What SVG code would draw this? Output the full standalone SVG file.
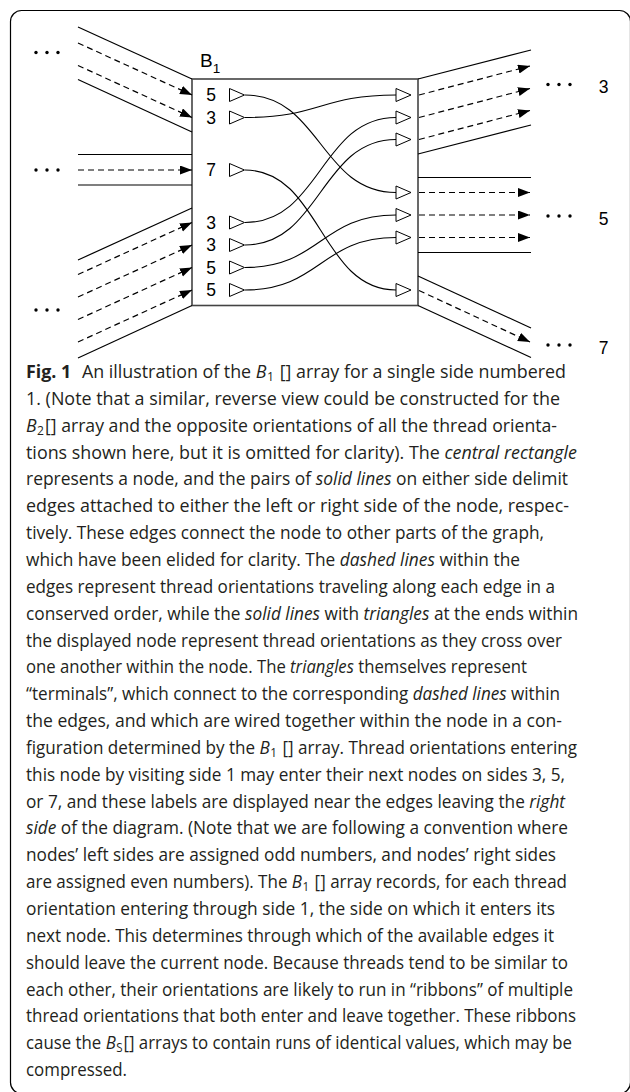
<svg xmlns="http://www.w3.org/2000/svg" xmlns:xlink="http://www.w3.org/1999/xlink" width="630" height="1092" viewBox="0 0 630 1092">
  <style>
    .frame { fill: none; stroke: #000; stroke-width: 1.2; }
    .node { fill: #fff; stroke: #444; stroke-width: 1.6; }
    .rail { fill: none; stroke: #000; stroke-width: 1.2; }
    .thread { fill: none; stroke: #000; stroke-width: 1.2; stroke-dasharray: 6 4; marker-end: url(#arrow); }
    .wire { fill: none; stroke: #000; stroke-width: 1.1; }
    .term { fill: #fff; stroke: #000; stroke-width: 1; }
    .dot { fill: #000; }
    .num { font-family: "Liberation Sans", Arial, sans-serif; font-size: 17.5px; fill: #000; text-anchor: middle; }
    .title { font-family: "Liberation Sans", Arial, sans-serif; font-size: 19px; fill: #000; }
    .cap { font-family: "Open Sans", "Noto Sans", sans-serif; font-size: 17.5px; fill: #231f20; }
    .it { font-style: italic; }
    .sub { font-size: 12px; }
  </style>
  <defs>
    <marker id="arrow" markerUnits="userSpaceOnUse" markerWidth="13" markerHeight="10" refX="12" refY="4.5" orient="auto">
      <path d="M0,0 L12,4.5 L0,9 Z" fill="#000"/>
    </marker>
    <path id="tri" d="M0,-6.5 L0,6.5 L15,0 Z"/>
    <g id="dots">
      <circle cx="0" cy="0" r="1.7"/>
      <circle cx="11" cy="0" r="1.7"/>
      <circle cx="22" cy="0" r="1.7"/>
    </g>
  </defs>

  <!-- outer figure frame -->
  <rect class="frame" x="10.5" y="10.5" width="620" height="1083" rx="11"/>

  <!-- the node B1 with its side-1 and right-side terminals -->
  <g id="node-b1">
    <rect class="node" x="192" y="79" width="226" height="226.5"/>
    <text class="title" x="200" y="67">B<tspan font-size="13.5px" dy="6">1</tspan></text>
    <g class="num">
      <text x="211" y="101.3">5</text>
      <text x="211" y="123.8">3</text>
      <text x="211" y="176.3">7</text>
      <text x="211" y="228.8">3</text>
      <text x="211" y="251.3">3</text>
      <text x="211" y="273.8">5</text>
      <text x="211" y="296.3">5</text>
    </g>
    <g class="term">
      <use xlink:href="#tri" x="229.5" y="95"/>
      <use xlink:href="#tri" x="229.5" y="117.5"/>
      <use xlink:href="#tri" x="229.5" y="170"/>
      <use xlink:href="#tri" x="229.5" y="222.5"/>
      <use xlink:href="#tri" x="229.5" y="245"/>
      <use xlink:href="#tri" x="229.5" y="267.5"/>
      <use xlink:href="#tri" x="229.5" y="290"/>
      <use xlink:href="#tri" x="396" y="95"/>
      <use xlink:href="#tri" x="396" y="117.5"/>
      <use xlink:href="#tri" x="396" y="139.5"/>
      <use xlink:href="#tri" x="396" y="192.5"/>
      <use xlink:href="#tri" x="396" y="215"/>
      <use xlink:href="#tri" x="396" y="237.5"/>
      <use xlink:href="#tri" x="396" y="290"/>
    </g>
  </g>

  <!-- incoming edges on the left side -->
  <g id="edge-left-top">
    <line class="rail" x1="78" y1="27" x2="192" y2="79"/>
    <line class="rail" x1="78" y1="79.5" x2="192" y2="132"/>
    <line class="thread" x1="78" y1="43" x2="192" y2="95"/>
    <line class="thread" x1="78" y1="65.5" x2="192" y2="117.5"/>
    <use class="dot" xlink:href="#dots" x="36" y="52.5"/>
  </g>
  <g id="edge-left-middle">
    <line class="rail" x1="78" y1="154.5" x2="192" y2="154.5"/>
    <line class="rail" x1="78" y1="185" x2="192" y2="185"/>
    <line class="thread" x1="78" y1="170" x2="192" y2="170"/>
    <use class="dot" xlink:href="#dots" x="36" y="170"/>
  </g>
  <g id="edge-left-bottom">
    <line class="rail" x1="78" y1="260" x2="192" y2="208"/>
    <line class="rail" x1="78" y1="358" x2="192" y2="305.5"/>
    <line class="thread" x1="78" y1="274.5" x2="192" y2="222.5"/>
    <line class="thread" x1="78" y1="297" x2="192" y2="245"/>
    <line class="thread" x1="78" y1="319.5" x2="192" y2="267.5"/>
    <line class="thread" x1="78" y1="342" x2="192" y2="290"/>
    <use class="dot" xlink:href="#dots" x="36" y="310"/>
  </g>

  <!-- outgoing edges on the right side, labelled by the side they enter -->
  <g id="edge-right-3">
    <line class="rail" x1="418" y1="79" x2="531" y2="50"/>
    <line class="rail" x1="418" y1="154" x2="531" y2="125"/>
    <line class="thread" x1="419" y1="95" x2="530" y2="66"/>
    <line class="thread" x1="419" y1="117.5" x2="530" y2="88.5"/>
    <line class="thread" x1="419" y1="139.5" x2="530" y2="110.5"/>
    <use class="dot" xlink:href="#dots" x="548" y="84.5"/>
    <text class="num" x="603.5" y="92.6">3</text>
  </g>
  <g id="edge-right-5">
    <line class="rail" x1="418" y1="177.5" x2="531" y2="177.5"/>
    <line class="rail" x1="418" y1="252.5" x2="531" y2="252.5"/>
    <line class="thread" x1="419" y1="192.5" x2="530" y2="192.5"/>
    <line class="thread" x1="419" y1="215" x2="530" y2="215"/>
    <line class="thread" x1="419" y1="237.5" x2="530" y2="237.5"/>
    <use class="dot" xlink:href="#dots" x="548" y="216"/>
    <text class="num" x="603.5" y="224.5">5</text>
  </g>
  <g id="edge-right-7">
    <line class="rail" x1="418" y1="276" x2="531" y2="328"/>
    <line class="rail" x1="418" y1="305.5" x2="531" y2="357.5"/>
    <line class="thread" x1="419" y1="290.5" x2="530" y2="342"/>
    <use class="dot" xlink:href="#dots" x="548" y="345"/>
    <text class="num" x="603.5" y="353.5">7</text>
  </g>

  <!-- wiring inside the node: side-1 terminals to outgoing terminals -->
  <g id="connectors" class="wire">
    <path d="M245,95 C320.5,95 320.5,192.5 396,192.5"/>
    <path d="M245,117.5 C320.5,117.5 320.5,95 396,95"/>
    <path d="M245,170 C320.5,170 320.5,290 396,290"/>
    <path d="M245,222.5 C320.5,222.5 320.5,117.5 396,117.5"/>
    <path d="M245,245 C320.5,245 320.5,139.5 396,139.5"/>
    <path d="M245,267.5 C320.5,267.5 320.5,215 396,215"/>
    <path d="M245,290 C320.5,290 320.5,237.5 396,237.5"/>
  </g>

  <!-- figure caption -->
  <g id="caption" class="cap">
    <text x="26" y="378" textLength="540" lengthAdjust="spacingAndGlyphs"><tspan font-weight="bold">Fig. 1</tspan><tspan dx="6"> An illustration of the </tspan><tspan class="it">B</tspan><tspan class="sub" dx="0.5" dy="3">1</tspan><tspan dx="1" dy="-3"> [] array for a single side numbered</tspan></text>
    <text x="26" y="404.85" textLength="534" lengthAdjust="spacingAndGlyphs">1. (Note that a similar, reverse view could be constructed for the</text>
    <text x="26" y="431.7" textLength="531" lengthAdjust="spacingAndGlyphs"><tspan class="it">B</tspan><tspan class="sub" dx="0.5" dy="3">2</tspan><tspan dx="1" dy="-3">[] array and the opposite orientations of all the thread orienta-</tspan></text>
    <text x="26" y="458.55" textLength="551" lengthAdjust="spacingAndGlyphs">tions shown here, but it is omitted for clarity). The <tspan class="it">central rectangle</tspan></text>
    <text x="26" y="485.4" textLength="542" lengthAdjust="spacingAndGlyphs">represents a node, and the pairs of <tspan class="it">solid lines</tspan> on either side delimit</text>
    <text x="26" y="512.25" textLength="543" lengthAdjust="spacingAndGlyphs">edges attached to either the left or right side of the node, respec-</text>
    <text x="26" y="539.1" textLength="518" lengthAdjust="spacingAndGlyphs">tively. These edges connect the node to other parts of the graph,</text>
    <text x="26" y="565.95" textLength="494" lengthAdjust="spacingAndGlyphs">which have been elided for clarity. The <tspan class="it">dashed lines</tspan> within the</text>
    <text x="26" y="592.8" textLength="529" lengthAdjust="spacingAndGlyphs">edges represent thread orientations traveling along each edge in a</text>
    <text x="26" y="619.65" textLength="552" lengthAdjust="spacingAndGlyphs">conserved order, while the <tspan class="it">solid lines</tspan> with <tspan class="it">triangles</tspan> at the ends within</text>
    <text x="26" y="646.5" textLength="536" lengthAdjust="spacingAndGlyphs">the displayed node represent thread orientations as they cross over</text>
    <text x="26" y="673.35" textLength="501" lengthAdjust="spacingAndGlyphs">one another within the node. The <tspan class="it">triangles</tspan> themselves represent</text>
    <text x="26" y="700.2" textLength="534" lengthAdjust="spacingAndGlyphs">“terminals”, which connect to the corresponding <tspan class="it">dashed lines</tspan> within</text>
    <text x="26" y="727.05" textLength="536" lengthAdjust="spacingAndGlyphs">the edges, and which are wired together within the node in a con-</text>
    <text x="26" y="753.9" textLength="551" lengthAdjust="spacingAndGlyphs">figuration determined by the <tspan class="it">B</tspan><tspan class="sub" dx="0.5" dy="3">1</tspan><tspan dx="1" dy="-3"> [] array. Thread orientations entering</tspan></text>
    <text x="26" y="780.75" textLength="539" lengthAdjust="spacingAndGlyphs">this node by visiting side 1 may enter their next nodes on sides 3, 5,</text>
    <text x="26" y="807.6" textLength="539" lengthAdjust="spacingAndGlyphs">or 7, and these labels are displayed near the edges leaving the <tspan class="it">right</tspan></text>
    <text x="26" y="834.45" textLength="542" lengthAdjust="spacingAndGlyphs"><tspan class="it">side</tspan> of the diagram. (Note that we are following a convention where</text>
    <text x="26" y="861.3" textLength="530" lengthAdjust="spacingAndGlyphs">nodes’ left sides are assigned odd numbers, and nodes’ right sides</text>
    <text x="26" y="888.15" textLength="541" lengthAdjust="spacingAndGlyphs">are assigned even numbers). The <tspan class="it">B</tspan><tspan class="sub" dx="0.5" dy="3">1</tspan><tspan dx="1" dy="-3"> [] array records, for each thread</tspan></text>
    <text x="26" y="915" textLength="529" lengthAdjust="spacingAndGlyphs">orientation entering through side 1, the side on which it enters its</text>
    <text x="26" y="941.85" textLength="528" lengthAdjust="spacingAndGlyphs">next node. This determines through which of the available edges it</text>
    <text x="26" y="968.7" textLength="542" lengthAdjust="spacingAndGlyphs">should leave the current node. Because threads tend to be similar to</text>
    <text x="26" y="995.55" textLength="547" lengthAdjust="spacingAndGlyphs">each other, their orientations are likely to run in “ribbons” of multiple</text>
    <text x="26" y="1022.4" textLength="550" lengthAdjust="spacingAndGlyphs">thread orientations that both enter and leave together. These ribbons</text>
    <text x="26" y="1049.25" textLength="546" lengthAdjust="spacingAndGlyphs">cause the <tspan class="it">B</tspan><tspan class="sub" dx="0.5" dy="3">S</tspan><tspan dx="1" dy="-3">[] arrays to contain runs of identical values, which may be</tspan></text>
    <text x="26" y="1076.1" textLength="101" lengthAdjust="spacingAndGlyphs">compressed.</text>
  </g>
</svg>
